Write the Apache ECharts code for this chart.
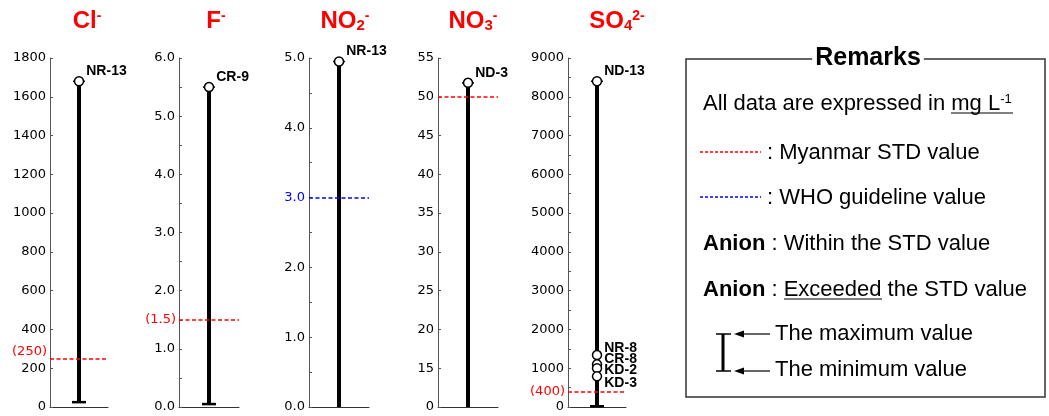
<!DOCTYPE html>
<html>
<head>
<meta charset="utf-8">
<script src="https://cdn.jsdelivr.net/npm/echarts@6/dist/echarts.min.js"></script>
<style>
  html, body { margin: 0; padding: 0; background: #fff; }
  #main { width: 1049px; height: 416px; }
</style>
</head>
<body>
<div id="main"></div>
<script>
// anion ranges (mg/L)
const anions = ['Cl', 'F', 'NO2', 'NO3', 'SO4'];
const titleTexts = ['{m|Cl}{p|-}', '{m|F}{p|-}', '{m|NO}{b|2}{p|-}', '{m|NO}{b|3}{p|-}', '{m|SO}{b|4}{p|2-}'];
const axisMin = [0, 0, 0, 10, 0];      // NO3 axis is broken: 10 is shown as 0
const axisMax = [1800, 6, 5, 55, 9000];
const axisStep = [200, 1, 1, 5, 1000];
const minValues = [25, 0.05, 0, 0, 20];
const maxValues = [1680, 5.5, 4.95, 51.8, 8400];
const maxSites = ['NR-13', 'CR-9', 'NR-13', 'ND-3', 'ND-13'];
const stdValues = [250, 1.5, 3.0, 50, 400];
const stdSource = ['Myanmar', 'Myanmar', 'WHO', 'Myanmar', 'Myanmar'];
const stdLabels = ['(250)', '(1.5)', '', '', '(400)'];
const so4Sites = ['NR-8', 'CR-8', 'KD-2', 'KD-3'];
const so4Values = [1340, 1100, 1000, 790];

const RED = '#ff0000';
const BLUE = '#0000ff';
const panelLeft = [50, 179, 309, 438, 568];
const panelWidth = [58, 60, 60, 60, 58];
const titleX = [82, 211, 340, 468, 612];
const so4Shift = [-7, -5, 2, 7];

// NO3 axis: 0-15 squeezed into one step
function toAxis(i, v) {
  if (i === 3 && v < 15) return 10 + v / 3;
  return v;
}

function rangeRenderer(i) {
  return function (params, api) {
    const hi = api.coord([api.value(0), api.value(2)]);
    const lo = api.coord([api.value(0), api.value(1)]);
    const kids = [
      { type: 'line', shape: { x1: lo[0], y1: lo[1], x2: hi[0], y2: hi[1] }, style: { stroke: '#000', lineWidth: 4 } },
      { type: 'line', shape: { x1: hi[0] - 6, y1: hi[1], x2: hi[0] + 6, y2: hi[1] }, style: { stroke: '#000', lineWidth: 1.5 } }
    ];
    if (api.value(1) > axisMin[i]) {
      kids.push({ type: 'line', shape: { x1: lo[0] - 7, y1: lo[1], x2: lo[0] + 7, y2: lo[1] }, style: { stroke: '#000', lineWidth: 2.5 } });
    }
    return { type: 'group', children: kids };
  };
}

const grids = [], xAxes = [], yAxes = [], series = [];
anions.forEach(function (a, i) {
  grids.push({ left: panelLeft[i], top: 58, width: panelWidth[i], height: 349, containLabel: false, outerBoundsMode: 'none' });
  xAxes.push({
    type: 'category', gridIndex: i, data: [a],
    axisLine: { show: true, lineStyle: { color: '#333', width: 1 } },
    axisTick: { show: false }, axisLabel: { show: false }, splitLine: { show: false }
  });
  yAxes.push({
    type: 'value', gridIndex: i, min: axisMin[i], max: axisMax[i], interval: axisStep[i],
    axisLine: { show: true, lineStyle: { color: '#555', width: 1 } },
    axisTick: { show: true, inside: true, length: 3, lineStyle: { color: '#555' } },
    minorTick: { show: i === 1 || i === 2 || i === 4, splitNumber: 2, length: 3, lineStyle: { color: '#555' } },
    splitLine: { show: false },
    axisLabel: {
      fontFamily: 'DejaVu Sans', fontSize: 13, color: '#000', margin: 4,
      formatter: function (v) {
        if (i === 3 && v === 10) return '0';
        let s = (i === 1 || i === 2) ? v.toFixed(1) : String(v);
        if (stdSource[i] === 'WHO' && v === stdValues[i]) return '{w|' + s + '}';
        return s;
      },
      rich: { w: { color: BLUE, fontFamily: 'DejaVu Sans', fontSize: 13 } }
    }
  });

  // standard value line (under the bar)
  series.push({
    type: 'line', xAxisIndex: i, yAxisIndex: i, data: [], z: 1, silent: true,
    markLine: {
      symbol: 'none', silent: true, animation: false,
      lineStyle: { color: stdSource[i] === 'WHO' ? BLUE : RED, type: [4, 2.5], width: 1.5 },
      label: {
        show: stdLabels[i] !== '', position: 'start', distance: 3,
        formatter: stdLabels[i], color: RED, fontFamily: 'DejaVu Sans', fontSize: 13,
        verticalAlign: i === 0 ? 'bottom' : 'middle'
      },
      data: [{ yAxis: stdValues[i] }]
    }
  });

  series.push({
    type: 'custom', xAxisIndex: i, yAxisIndex: i, z: 3,
    renderItem: rangeRenderer(i),
    encode: { x: 0, y: [1, 2] },
    data: [[0, toAxis(i, minValues[i]), toAxis(i, maxValues[i])]]
  });

  const pts = [{ value: [0, toAxis(i, maxValues[i])], name: maxSites[i], label: { offset: [0, -10] } }];
  if (i === 4) {
    so4Sites.forEach(function (s, k) {
      pts.push({ value: [0, so4Values[k]], name: s, label: { offset: [0, so4Shift[k]] } });
    });
  }
  series.push({
    type: 'scatter', xAxisIndex: i, yAxisIndex: i, z: 4,
    symbol: 'circle', symbolSize: 9,
    itemStyle: { color: '#fff', borderColor: '#000', borderWidth: 1.5, opacity: 1 },
    label: {
      show: true, position: 'right', distance: 2,
      formatter: '{b}', color: '#000', fontFamily: 'Liberation Sans', fontWeight: 'bold', fontSize: 14
    },
    data: pts
  });
});

const titleRich = {
  m: { fontSize: 24, fontWeight: 'bold', color: RED, fontFamily: 'Liberation Sans' },
  p: { fontSize: 14, fontWeight: 'bold', color: RED, fontFamily: 'Liberation Sans', verticalAlign: 'top' },
  b: { fontSize: 15, fontWeight: 'bold', color: RED, fontFamily: 'Liberation Sans', verticalAlign: 'bottom' }
};

const body = { fontSize: 22, fontFamily: 'Liberation Sans', color: '#000' };
const txt = function (x, y, text, rich) {
  return { type: 'text', x: x, y: y, z: 10, style: { text: text, rich: rich, verticalAlign: 'middle', align: 'left' } };
};
const ln = function (x1, y1, x2, y2, color, w, dash) {
  return { type: 'line', z: 10, shape: { x1: x1, y1: y1, x2: x2, y2: y2 }, style: { stroke: color, lineWidth: w, lineDash: dash || null } };
};
const arrow = function (y) {
  return [
    ln(738, y, 770, y, '#000', 1.2),
    { type: 'polygon', z: 10, shape: { points: [[734, y], [744, y - 3.5], [744, y + 3.5]] }, style: { fill: '#000' } }
  ];
};

const remarks = [
  { type: 'rect', z: 9, shape: { x: 686, y: 59, width: 359, height: 338 }, style: { fill: 'none', stroke: '#333', lineWidth: 1.5 } },
  { type: 'text', x: 868, y: 58, z: 11, style: { text: 'Remarks', font: 'bold 25px "Liberation Sans"', fill: '#000', align: 'center', verticalAlign: 'middle', backgroundColor: '#fff', padding: [0, 3] } },
  txt(703, 104, '{a|All data are expressed in mg L}{s|-1}', { a: body, s: { fontSize: 13, fontFamily: 'Liberation Sans', color: '#000', verticalAlign: 'top' } }),
  ln(951, 113, 1013, 113, '#000', 1),
  ln(700, 152, 761, 152, RED, 1.5, [3, 2]),
  txt(767, 153, '{a|: Myanmar STD value}', { a: body }),
  ln(700, 197, 761, 197, BLUE, 1.5, [3, 2]),
  txt(767, 198, '{a|: WHO guideline value}', { a: body }),
  txt(703, 244, '{k|Anion}{a| : Within the STD value}', { a: body, k: { fontSize: 22, fontWeight: 'bold', fontFamily: 'Liberation Sans', color: '#000' } }),
  txt(703, 290, '{k|Anion}{a| : Exceeded the STD value}', { a: body, k: { fontSize: 22, fontWeight: 'bold', fontFamily: 'Liberation Sans', color: RED } }),
  ln(784, 299, 882, 299, '#000', 1),
  ln(723, 334, 723, 371, '#000', 3),
  ln(716, 334, 731, 334, '#000', 1.5),
  ln(716, 371, 731, 371, '#000', 1.5),
  txt(775, 334, '{a|The maximum value}', { a: body }),
  txt(775, 370, '{a|The minimum value}', { a: body })
].concat(arrow(334), arrow(371));

const chart = echarts.init(document.getElementById('main'), null, { renderer: 'canvas' });
chart.setOption({
  animation: false,
  backgroundColor: '#fff',
  title: anions.map(function (a, i) {
    return { text: titleTexts[i], left: titleX[i], top: 4, textAlign: 'center', textStyle: { rich: titleRich } };
  }),
  grid: grids,
  xAxis: xAxes,
  yAxis: yAxes,
  series: series,
  graphic: remarks
});
</script>
</body>
</html>
